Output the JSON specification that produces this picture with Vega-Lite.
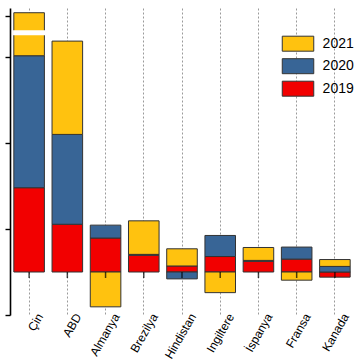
{
  "$schema": "https://vega.github.io/schema/vega-lite/v6.json",
  "width": 344,
  "height": 307,
  "autosize": "none",
  "padding": {"left": 10, "top": 8, "right": 2, "bottom": 49},
  "config": {"view": {"stroke": null}, "font": "Liberation Sans"},
  "datasets": {
    "main": [
      {"country": "Çin", "year": "2019", "value": 1.96},
      {"country": "Çin", "year": "2020", "value": 3.07},
      {"country": "Çin", "year": "2021", "value": 1.0},
      {"country": "ABD", "year": "2019", "value": 1.11},
      {"country": "ABD", "year": "2020", "value": 2.09},
      {"country": "ABD", "year": "2021", "value": 2.17},
      {"country": "Almanya", "year": "2019", "value": 0.79},
      {"country": "Almanya", "year": "2020", "value": 0.30},
      {"country": "Almanya", "year": "2021", "value": -0.81},
      {"country": "Brezilya", "year": "2019", "value": 0.39},
      {"country": "Brezilya", "year": "2020", "value": 0.02},
      {"country": "Brezilya", "year": "2021", "value": 0.78},
      {"country": "Hindistan", "year": "2019", "value": 0.14},
      {"country": "Hindistan", "year": "2020", "value": -0.16},
      {"country": "Hindistan", "year": "2021", "value": 0.40},
      {"country": "Ingiltere", "year": "2019", "value": 0.36},
      {"country": "Ingiltere", "year": "2020", "value": 0.49},
      {"country": "Ingiltere", "year": "2021", "value": -0.48},
      {"country": "İspanya", "year": "2019", "value": 0.25},
      {"country": "İspanya", "year": "2020", "value": 0.02},
      {"country": "İspanya", "year": "2021", "value": 0.30},
      {"country": "Fransa", "year": "2019", "value": 0.30},
      {"country": "Fransa", "year": "2020", "value": 0.28},
      {"country": "Fransa", "year": "2021", "value": -0.19},
      {"country": "Kanada", "year": "2019", "value": -0.12},
      {"country": "Kanada", "year": "2020", "value": 0.13},
      {"country": "Kanada", "year": "2021", "value": 0.16}
    ],
    "gap": [{"country": "Çin", "lo": 5.523, "hi": 5.605}]
  },
  "layer": [
    {
      "data": {"name": "main"},
      "mark": {"type": "bar", "stroke": "#333333", "strokeWidth": 1},
      "encoding": {
        "x": {
          "field": "country",
          "type": "nominal",
          "sort": null,
          "scale": {"paddingInner": 0.2, "paddingOuter": 0.1},
          "axis": {
            "title": null,
            "labelAngle": -60,
            "labelFontSize": 12,
            "labelColor": "black",
            "labelFont": "Liberation Sans",
            "labelOffset": 11,
            "labelPadding": -1,
            "domain": false,
            "ticks": false,
            "grid": true,
            "gridDash": [2, 2],
            "gridColor": "#9a9a9a",
            "gridWidth": 1,
            "bandPosition": 0.5
          }
        },
        "y": {
          "field": "value",
          "type": "quantitative",
          "stack": "zero",
          "scale": {"domain": [-1, 6.14], "nice": false, "zero": false},
          "axis": {
            "title": null,
            "labels": false,
            "grid": false,
            "domain": true,
            "domainColor": "black",
            "domainWidth": 1.6,
            "tickColor": "black",
            "tickWidth": 1.4,
            "tickSize": {"condition": {"test": "datum.value % 1 !== 0 && datum.value < 5.6", "value": 3}, "value": 5},
            "values": [-1, -0.5, 0, 0.5, 1, 1.5, 2, 2.5, 3, 3.5, 4, 4.5, 5, 5.7, 5.78, 5.88, 5.96, 6.03]
          }
        },
        "color": {
          "field": "year",
          "type": "nominal",
          "scale": {"domain": ["2021", "2020", "2019"], "range": ["#FFC20F", "#386596", "#F20000"]},
          "legend": {
            "title": null,
            "orient": "none",
            "legendX": 280,
            "legendY": 27.7,
            "padding": 0,
            "symbolType": "M-2.1,-1L2.1,-1L2.1,1L-2.1,1Z",
            "symbolSize": 225,
            "symbolStrokeColor": "#333333",
            "symbolStrokeWidth": 1,
            "symbolOpacity": 1,
            "labelFontSize": 14,
            "labelFont": "Liberation Sans",
            "labelColor": "black",
            "labelOffset": 16.6,
            "rowPadding": 2.5
          }
        },
        "order": {"field": "year", "sort": "ascending"}
      }
    },
    {
      "data": {"name": "gap"},
      "mark": {"type": "rect", "fill": "white", "stroke": "white", "strokeWidth": 1.5},
      "encoding": {
        "x": {"field": "country", "type": "nominal", "sort": null},
        "y": {"field": "lo", "type": "quantitative"},
        "y2": {"field": "hi"}
      }
    },
    {
      "mark": {"type": "rule", "color": "black", "strokeWidth": 1.5},
      "encoding": {"y": {"datum": 0}}
    },
    {
      "mark": {"type": "rule", "color": "black", "strokeWidth": 1.5},
      "encoding": {"y": {"datum": 6.14}}
    },
    {
      "data": {"name": "main"},
      "transform": [{"filter": "datum.year === '2019'"}],
      "mark": {"type": "tick", "orient": "vertical", "size": 6, "thickness": 1.5, "color": "black", "yOffset": 3},
      "encoding": {
        "x": {"field": "country", "type": "nominal", "sort": null},
        "y": {"datum": 0}
      }
    }
  ]
}
